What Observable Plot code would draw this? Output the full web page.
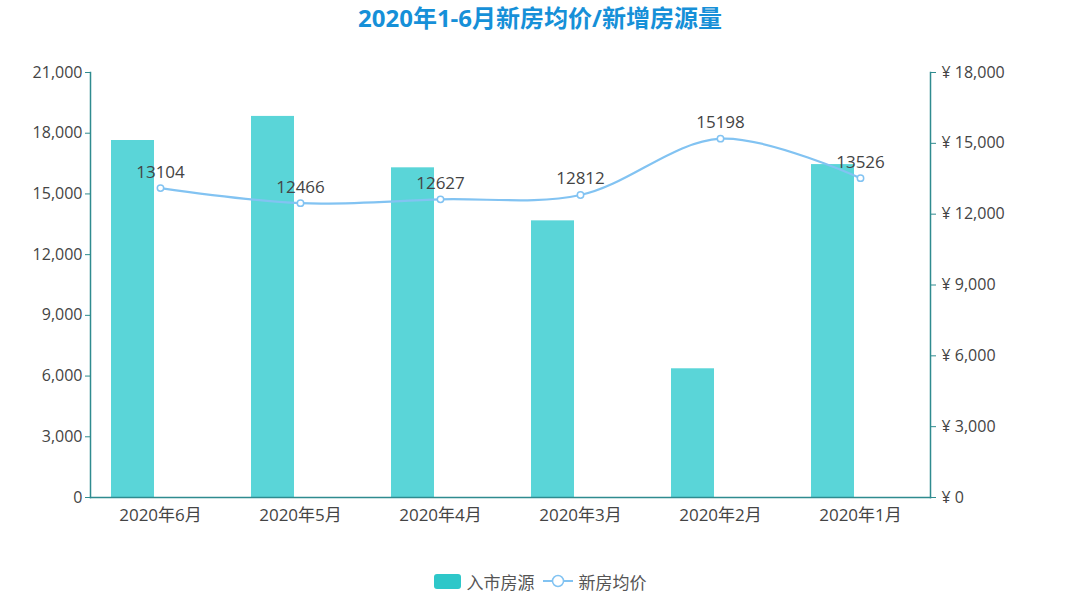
<!DOCTYPE html>
<html>
<head>
<meta charset="utf-8">
<script src="https://cdn.jsdelivr.net/npm/d3@7"></script>
<script src="https://cdn.jsdelivr.net/npm/@observablehq/plot@0.6"></script>
<style>
  body { margin: 0; background: #fff; font-family: "Open Sans", "Noto Sans CJK SC", sans-serif; }
  #title { height: 36px; line-height: 36px; text-align: center; font-size: 24px; font-weight: bold; color: #1690d8; font-family: "Open Sans", "Noto Sans CJK SC", sans-serif; }
  #legend { height: 40px; display: flex; justify-content: center; align-items: center; gap: 8px; font-size: 17px; color: #555; padding-top: 10px; box-sizing: border-box; font-family: "Noto Sans CJK SC", sans-serif; }
  .sw { display: inline-block; width: 27px; height: 15px; border-radius: 3px; background: #2ec7c9; margin-right: 6px; }
  .item { display: flex; align-items: center; }
</style>
</head>
<body>
<div id="title">2020年1-6月新房均价/新增房源量</div>
<div id="chart"></div>
<div id="legend">
  <span class="item"><span class="sw"></span>入市房源</span>
  <span class="item"><svg width="30" height="14" style="margin-right:6px"><line x1="0" y1="7" x2="30" y2="7" stroke="#82c3f2" stroke-width="2"/><circle cx="15" cy="7" r="5.5" fill="#fff" stroke="#82c3f2" stroke-width="1.5"/></svg>新房均价</span>
</div>
<script>
const months = ["2020年6月", "2020年5月", "2020年4月", "2020年3月", "2020年2月", "2020年1月"];
const supply = [17640, 18830, 16290, 13670, 6360, 16450];
const price = [13104, 12466, 12627, 12812, 15198, 13526];
const leftTicks = [0, 3000, 6000, 9000, 12000, 15000, 18000, 21000];
const rightTicks = [0, 3000, 6000, 9000, 12000, 15000, 18000];

const k = 21000 / 18000;
const data = months.map((m, i) => ({month: m, supply: supply[i], price: price[i], py: price[i] * k}));
const axisColor = "#2f8b8f";
const lineColor = "#82c3f2";
const fmt = d3.format(",");

const chart = Plot.plot({
  width: 1080,
  height: 520,
  marginTop: 36,
  marginBottom: 59,
  marginLeft: 90,
  marginRight: 150,
  style: {fontSize: "16px", fontFamily: "'Open Sans', 'Noto Sans CJK SC', sans-serif", background: "#fff"},
  x: {domain: months, padding: 0, label: null},
  y: {domain: [0, 21000], label: null},
  marks: [
    Plot.barY(data, {x: "month", y: "supply", fill: "#5ad5d8", insetLeft: 21, insetRight: 76}),
    Plot.frame({anchor: "left", stroke: axisColor, strokeWidth: 1.5}),
    Plot.frame({anchor: "right", stroke: axisColor, strokeWidth: 1.5}),
    Plot.frame({anchor: "bottom", stroke: axisColor, strokeWidth: 1.5}),
    Plot.axisY({ticks: leftTicks, tickFormat: fmt, tickSize: 5, tickPadding: 3, stroke: axisColor, fill: "#444", fontSize: 16, label: null}),
    Plot.axisY({anchor: "right", ticks: rightTicks.map(t => t * k), tickFormat: d => "¥ " + fmt(Math.round(d / k)), tickSize: 5, tickPadding: 6, stroke: axisColor, fill: "#444", fontSize: 16, label: null}),
    Plot.axisX({tickSize: 0, tickPadding: 11, fill: "#444", fontSize: 17, label: null}),
    Plot.line(data, {x: "month", y: "py", stroke: lineColor, strokeWidth: 2.2, curve: "catmull-rom"}),
    Plot.dot(data, {x: "month", y: "py", r: 3.2, fill: "#fff", stroke: lineColor, strokeWidth: 1.5}),
    Plot.text(data, {x: "month", y: "py", text: d => String(d.price), dy: -16, fontSize: 17, fill: "#444"})
  ]
});
document.getElementById("chart").appendChild(chart);
</script>
</body>
</html>
